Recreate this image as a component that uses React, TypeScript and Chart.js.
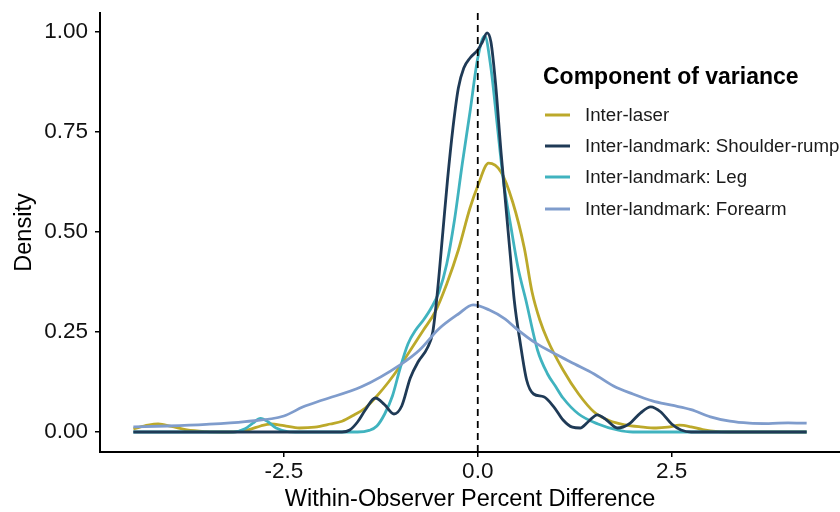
import React, { useEffect, useRef } from "react";
import { Chart, registerables } from "chart.js";
Chart.register(...registerables);

// ---------- data ----------
const legendTitle = "Component of variance";
const seriesNames = [
  "Inter-laser",
  "Inter-landmark: Shoulder-rump",
  "Inter-landmark: Leg",
  "Inter-landmark: Forearm",
];

const laserX = [-4.44, -4.25, -4.12, -3.95, -3.75, -3.5, -3.2, -2.95, -2.8, -2.67, -2.5, -2.3, -2.1, -1.9, -1.75, -1.6, -1.45, -1.3, -1.15, -1.0, -0.85, -0.7, -0.55, -0.4, -0.25, -0.1, 0.0, 0.14, 0.3, 0.45, 0.6, 0.7, 0.8, 0.9, 1.1, 1.3, 1.5, 1.7, 1.9, 2.1, 2.3, 2.45, 2.6, 2.75, 2.9, 3.1, 3.3, 4.24];
const laserY = [0.008, 0.017, 0.02, 0.014, 0.005, 0.001, 0.0, 0.006, 0.015, 0.02, 0.016, 0.01, 0.012, 0.02, 0.027, 0.042, 0.06, 0.09, 0.125, 0.165, 0.21, 0.255, 0.3, 0.37, 0.455, 0.56, 0.615, 0.672, 0.65, 0.575, 0.46, 0.35, 0.28, 0.23, 0.155, 0.095, 0.05, 0.028, 0.018, 0.013, 0.01, 0.012, 0.017, 0.013, 0.006, 0.001, 0.0, 0.0];

const shoulderX = [-4.44, -1.75, -1.65, -1.55, -1.45, -1.32, -1.2, -1.08, -0.98, -0.87, -0.77, -0.65, -0.58, -0.52, -0.45, -0.39, -0.32, -0.25, -0.18, -0.1, 0.0, 0.06, 0.12, 0.17, 0.23, 0.3, 0.36, 0.42, 0.47, 0.55, 0.63, 0.72, 0.85, 0.98, 1.1, 1.22, 1.32, 1.42, 1.54, 1.66, 1.8, 1.95, 2.1, 2.23, 2.36, 2.5, 2.62, 2.75, 4.24];
const shoulderY = [0.0, 0.0, 0.005, 0.025, 0.055, 0.085, 0.068, 0.045, 0.065, 0.135, 0.175, 0.21, 0.25, 0.35, 0.5, 0.63, 0.76, 0.86, 0.91, 0.935, 0.955, 0.975, 0.998, 0.975, 0.87, 0.7, 0.57, 0.44, 0.33, 0.22, 0.13, 0.095, 0.088, 0.063, 0.03, 0.012, 0.01, 0.025, 0.043, 0.03, 0.01, 0.02, 0.048, 0.063, 0.05, 0.02, 0.005, 0.0, 0.0];

const legX = [-4.44, -3.15, -3.0, -2.9, -2.8, -2.7, -2.6, -2.45, -2.3, -1.55, -1.4, -1.3, -1.2, -1.1, -1.0, -0.9, -0.8, -0.7, -0.6, -0.5, -0.4, -0.3, -0.2, -0.1, 0.0, 0.09, 0.17, 0.25, 0.33, 0.43, 0.52, 0.62, 0.77, 0.9, 1.0, 1.1, 1.3, 1.55, 1.8, 2.0, 4.24];
const legY = [0.0, 0.0, 0.008, 0.022, 0.034, 0.025, 0.01, 0.001, 0.0, 0.0, 0.004, 0.015, 0.045, 0.09, 0.16, 0.22, 0.255, 0.28, 0.31, 0.35, 0.42, 0.53, 0.67, 0.8, 0.935, 0.99, 0.91, 0.77, 0.63, 0.51, 0.41, 0.33, 0.205, 0.145, 0.115, 0.085, 0.045, 0.02, 0.005, 0.0, 0.0];

const forearmX = [-4.44, -4.0, -3.5, -3.0, -2.5, -2.25, -2.0, -1.5, -1.0, -0.75, -0.5, -0.25, -0.06, 0.15, 0.35, 0.5, 0.75, 1.0, 1.25, 1.5, 1.75, 2.0, 2.25, 2.5, 2.75, 3.0, 3.25, 3.5, 3.75, 4.0, 4.24];
const forearmY = [0.013, 0.015, 0.019, 0.026, 0.04, 0.063, 0.08, 0.113, 0.168, 0.205, 0.258, 0.295, 0.318, 0.305, 0.283, 0.258, 0.222, 0.195, 0.17, 0.145, 0.115, 0.095, 0.078, 0.067, 0.056, 0.038, 0.027, 0.022, 0.021, 0.023, 0.022];

const xTicks = [-2.5, 0, 2.5];
const yTicks = [0, 0.25, 0.5, 0.75, 1.0];
const xTitle = "Within-Observer Percent Difference";
const yTitle = "Density";

// ---------- styles ----------
const colors = ["#BCA92A", "#1F3A56", "#40B3BF", "#7F9CCC"];
const FONT = "'Liberation Sans', Arial, Helvetica, sans-serif";

const toPts = (xs: number[], ys: number[]) => xs.map((x, i) => ({ x, y: ys[i] }));

const overlayPlugin = {
  id: "overlay",
  afterDatasetsDraw(chart: any) {
    const { ctx, chartArea, scales } = chart;
    const x0 = scales.x.getPixelForValue(0);
    ctx.save();
    ctx.strokeStyle = "#000";
    ctx.lineWidth = 1.8;
    ctx.setLineDash([7, 5]);
    ctx.beginPath();
    ctx.moveTo(x0, chartArea.top);
    ctx.lineTo(x0, chartArea.bottom);
    ctx.stroke();
    ctx.restore();
  },
  afterDraw(chart: any) {
    const { ctx } = chart;
    ctx.save();
    ctx.fillStyle = "#000";
    ctx.textBaseline = "middle";
    ctx.textAlign = "left";
    ctx.font = `bold 23px ${FONT}`;
    ctx.fillText(legendTitle, 543, 78);
    ctx.font = `18.7px ${FONT}`;
    const ys = [115, 146, 177, 209];
    seriesNames.forEach((name, i) => {
      ctx.strokeStyle = colors[i];
      ctx.lineWidth = 3;
      ctx.setLineDash([]);
      ctx.beginPath();
      ctx.moveTo(545, ys[i]);
      ctx.lineTo(570, ys[i]);
      ctx.stroke();
      ctx.fillStyle = "#1a1a1a";
      ctx.fillText(name, 585, ys[i] + 1);
    });
    ctx.restore();
  },
};

export default function App() {
  const ref = useRef<HTMLCanvasElement | null>(null);
  useEffect(() => {
    if (!ref.current) return;
    const data = [
      toPts(laserX, laserY),
      toPts(shoulderX, shoulderY),
      toPts(legX, legY),
      toPts(forearmX, forearmY),
    ];
    const orders = [3, 1, 2, 0];
    const chart = new Chart(ref.current, {
      type: "line",
      data: {
        datasets: seriesNames.map((name, i) => ({
          label: name,
          data: data[i],
          borderColor: colors[i],
          backgroundColor: colors[i],
          borderWidth: 2.8,
          pointRadius: 0,
          fill: false,
          cubicInterpolationMode: "monotone" as const,
          order: orders[i],
        })),
      },
      options: {
        animation: false,
        responsive: false,
        maintainAspectRatio: false,
        layout: { padding: { top: 13, right: 0, left: 0, bottom: 0 } },
        plugins: { legend: { display: false }, tooltip: { enabled: false } },
        scales: {
          x: {
            type: "linear",
            min: -4.87,
            max: 4.67,
            afterBuildTicks: (s: any) => {
              s.ticks = xTicks.map((v) => ({ value: v }));
            },
            afterFit: (s: any) => {
              s.height = 60;
              s.paddingLeft = 0;
              s.paddingRight = 0;
            },
            ticks: {
              callback: (v: any) => Number(v).toFixed(1),
              font: { family: FONT, size: 22.5 },
              color: "#111",
              padding: 1,
              maxRotation: 0,
            },
            grid: { drawOnChartArea: false, drawTicks: true, tickLength: 5, color: "#000", lineWidth: 1.5 },
            border: { display: true, color: "#000", width: 2 },
            title: {
              display: true,
              text: xTitle,
              font: { family: FONT, size: 23.5, lineHeight: 1 },
              color: "#000",
              padding: { top: 0, bottom: 1 },
            },
          },
          y: {
            type: "linear",
            min: -0.05,
            max: 1.0475,
            afterBuildTicks: (s: any) => {
              s.ticks = yTicks.map((v) => ({ value: v }));
            },
            afterFit: (s: any) => {
              s.width = 100;
              s.paddingTop = 0;
              s.paddingBottom = 0;
            },
            ticks: {
              callback: (v: any) => Number(v).toFixed(2),
              font: { family: FONT, size: 22.5 },
              color: "#111",
              padding: 7,
            },
            grid: { drawOnChartArea: false, drawTicks: true, tickLength: 5, color: "#000", lineWidth: 1.5 },
            border: { display: true, color: "#000", width: 2 },
            title: {
              display: true,
              text: yTitle,
              font: { family: FONT, size: 23.5, lineHeight: 1 },
              color: "#000",
              padding: { top: 13, bottom: 0 },
            },
          },
        },
      },
      plugins: [overlayPlugin],
    });
    return () => chart.destroy();
  }, []);
  return (
    <div style={{ position: "absolute", left: 0, top: 0, width: 840, height: 512, background: "#fff" }}>
      <canvas ref={ref} width={840} height={512} style={{ width: 840, height: 512, display: "block" }} />
    </div>
  );
}
